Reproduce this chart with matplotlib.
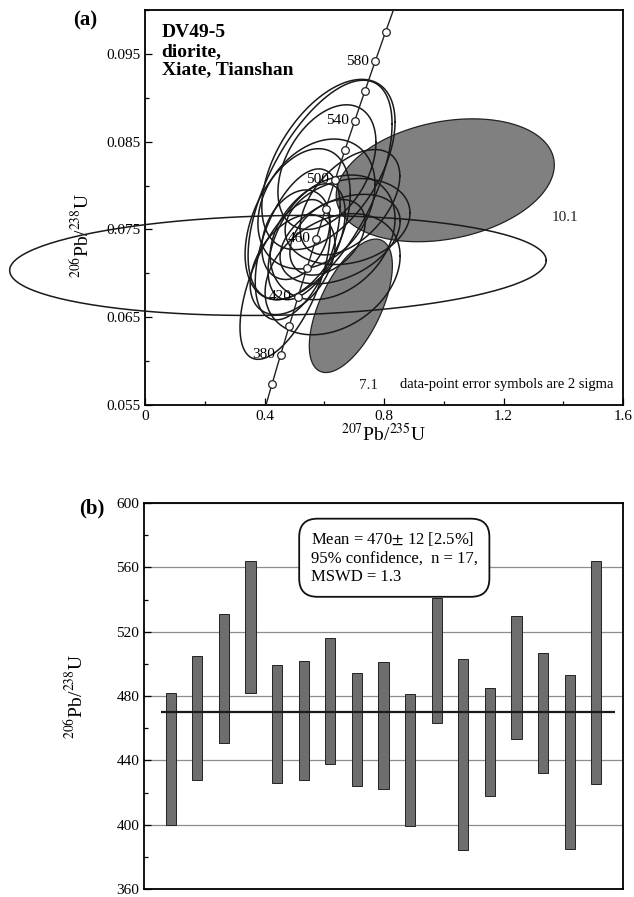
import numpy as np
import matplotlib
matplotlib.use("Agg")
import matplotlib.pyplot as plt
from matplotlib.ticker import MultipleLocator

plt.rcParams['font.family'] = ['Liberation Serif', 'DejaVu Serif']
plt.rcParams['mathtext.fontset'] = 'stix'

# ---- panel (a): concordia data ----
# analyses: 207Pb/235U, 2s, 206Pb/238U, 2s, rho
x207 = [0.586, 0.614, 0.609, 0.574, 0.511, 0.511, 0.469, 0.628, 0.678,
        0.653, 0.505, 0.541, 0.611, 0.628, 0.686, 0.494, 0.445]
sx207 = [0.241, 0.223, 0.164, 0.196, 0.176, 0.142, 0.151, 0.209, 0.209,
         0.201, 0.114, 0.129, 0.126, 0.226, 0.167, 0.142, 0.898]
y206 = [0.0795, 0.0824, 0.0821, 0.0779, 0.0756, 0.0733, 0.0693, 0.0741, 0.0759,
        0.0739, 0.0744, 0.0736, 0.0741, 0.0699, 0.0781, 0.0710, 0.0709]
sy206 = [0.0125, 0.0097, 0.0071, 0.0074, 0.0086, 0.0086, 0.0091, 0.0071, 0.0049,
         0.0051, 0.0051, 0.0066, 0.0043, 0.0069, 0.0060, 0.0057, 0.0057]
rho = [0.6, 0.5, 0.4, 0.3, 0.4, 0.5, 0.6, 0.3, 0.2,
       0.4, 0.3, 0.5, 0.4, 0.3, 0.5, 0.4, 0.1]

# rejected spots (shaded)
rej_names = ['10.1', '7.1']
rej_x = [1.005, 0.689]
rej_sx = [0.365, 0.139]
rej_y = [0.0806, 0.0663]
rej_sy = [0.0070, 0.0076]
rej_rho = [0.25, 0.6]
rej_label_xy = [(1.36, 0.0764), (0.716, 0.0572)]

# concordia age marks (Ma)
ages = np.arange(360, 620, 20)
age_labels = [380, 420, 460, 500, 540, 580]

# ---- panel (b): weighted mean ages ----
age_top = [482, 505, 531, 564, 499, 502, 516, 494, 501, 481, 541, 503, 485, 530, 507, 493, 564]
age_bot = [400, 428, 451, 482, 426, 428, 438, 424, 422, 399, 463, 384, 418, 453, 432, 385, 425]
mean_age = 470

L238 = 1.55125e-10
L235 = 9.8485e-10


def concordia(t_ma):
    t = np.asarray(t_ma) * 1e6
    return np.exp(L235 * t) - 1, np.exp(L238 * t) - 1


def ellipse(cx, sx, cy, sy, r, n=200):
    t = np.linspace(0, 2 * np.pi, n)
    xs = cx + sx * np.cos(t)
    ys = cy + sy * (r * np.cos(t) + np.sqrt(1 - r ** 2) * np.sin(t))
    return xs, ys


fig = plt.figure(figsize=(6.34, 8.97), dpi=100)
ax1 = fig.add_axes([145 / 634, 1 - 405 / 897, 478 / 634, 395 / 897])
ax2 = fig.add_axes([144 / 634, 1 - 889 / 897, 479 / 634, 386 / 897])

grey = '#808080'

# shaded ellipses first
for i in range(len(rej_x)):
    ex, ey = ellipse(rej_x[i], rej_sx[i], rej_y[i], rej_sy[i], rej_rho[i])
    ax1.fill(ex, ey, facecolor=grey, edgecolor='#222222', lw=0.9, zorder=2)
    ax1.text(rej_label_xy[i][0], rej_label_xy[i][1], rej_names[i], fontsize=11,
             ha='left', va='center', color='#222222')

# open ellipses
for i in range(len(x207)):
    ex, ey = ellipse(x207[i], sx207[i], y206[i], sy206[i], rho[i])
    wide = sx207[i] > 0.5
    ax1.plot(ex, ey, color='#1a1a1a', lw=1.1, zorder=3, clip_on=not wide)

# concordia curve
tc = np.linspace(300, 660, 300)
cx_, cy_ = concordia(tc)
ax1.plot(cx_, cy_, color='#222222', lw=1.0, zorder=4)
mx, my = concordia(ages)
ax1.plot(mx, my, 'o', ms=5.5, mfc='white', mec='#222222', mew=0.9, zorder=5)
for a in age_labels:
    px, py = concordia(a)
    ax1.text(px - 0.02, py, str(a), fontsize=11, ha='right', va='center', zorder=6)

ax1.set_xlim(0, 1.6)
ax1.set_ylim(0.055, 0.1)
ax1.set_xticks([0, 0.4, 0.8, 1.2, 1.6])
ax1.set_xticklabels(['0', '0.4', '0.8', '1.2', '1.6'])
ax1.xaxis.set_minor_locator(MultipleLocator(0.2))
ax1.set_yticks([0.055, 0.065, 0.075, 0.085, 0.095])
ax1.set_yticklabels(['0.055', '0.065', '0.075', '0.085', '0.095'])
ax1.yaxis.set_minor_locator(MultipleLocator(0.005))
ax1.tick_params(which='both', direction='in', labelsize=11, width=0.9)
ax1.tick_params(which='major', length=5)
ax1.tick_params(which='minor', length=3)
for s in ax1.spines.values():
    s.set_linewidth(1.3)

ax1.set_xlabel(r'$^{207}$Pb/$^{235}$U', fontsize=14)
ax1.xaxis.set_label_coords(0.5, -0.045)
ax1.set_ylabel(r'$^{206}$Pb/$^{238}$U', fontsize=14)
ax1.yaxis.set_label_coords(-0.11, 0.43)

ax1.text(0.035, 0.965, 'DV49-5\ndiorite,\nXiate, Tianshan', transform=ax1.transAxes,
         fontsize=14, fontweight='bold', ha='left', va='top', linespacing=1.15)
ax1.text(0.98, 0.035, 'data-point error symbols are 2 sigma', transform=ax1.transAxes,
         fontsize=10.5, ha='right', va='bottom')
fig.text(85 / 634, 1 - 20 / 897, '(a)', fontsize=15, fontweight='bold', ha='center', va='center')

# ---- panel (b) ----
xs = np.arange(1, len(age_top) + 1)
heights = np.array(age_top) - np.array(age_bot)
ax2.bar(xs, heights, bottom=age_bot, width=0.38, color='#6e6e6e', edgecolor='#222222',
        lw=0.7, zorder=3)
ax2.hlines(mean_age, 0.65, 17.7, color='#1a1a1a', lw=1.6, zorder=4)

ax2.set_xlim(0, 18)
ax2.set_ylim(360, 600)
ax2.set_xticks([])
ax2.yaxis.set_major_locator(MultipleLocator(40))
ax2.yaxis.set_minor_locator(MultipleLocator(20))
ax2.yaxis.grid(True, which='major', color='#8c8c8c', lw=0.9, zorder=1)
ax2.set_axisbelow(True)
ax2.tick_params(which='both', direction='in', labelsize=11, width=0.9)
ax2.tick_params(which='major', length=5)
ax2.tick_params(which='minor', length=3)
for s in ax2.spines.values():
    s.set_linewidth(1.3)

ax2.set_ylabel(r'$^{206}$Pb/$^{238}$U', fontsize=14)
ax2.yaxis.set_label_coords(-0.12, 0.5)

ax2.text(6.27, 583, 'Mean = 470$\\pm$ 12 [2.5%]\n95% confidence,  n = 17,\nMSWD = 1.3',
         fontsize=12, ha='left', va='top', linespacing=1.2, zorder=5,
         bbox=dict(boxstyle='round,pad=0.7,rounding_size=1.1', fc='white', ec='#111111', lw=1.3))
fig.text(92 / 634, 1 - 508 / 897, '(b)', fontsize=15, fontweight='bold', ha='center', va='center')

fig.savefig('out.png', dpi=100)
